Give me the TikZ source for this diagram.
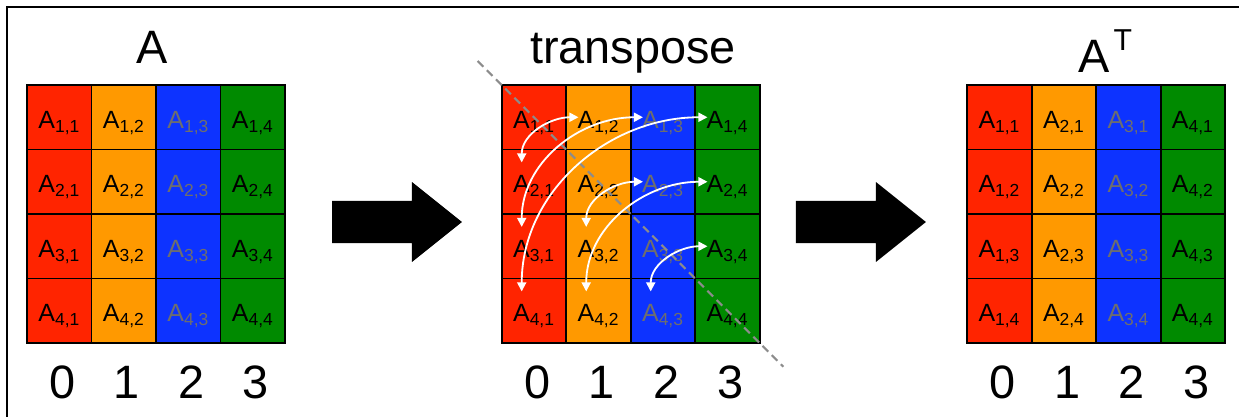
\documentclass[tikz,border=0pt]{standalone}
\usepackage{fontspec}
\setmainfont{Liberation Sans}
\usetikzlibrary{arrows.meta}

\definecolor{cellred}{RGB}{255,36,0}
\definecolor{cellorange}{RGB}{255,153,0}
\definecolor{cellblue}{RGB}{13,51,255}
\definecolor{cellgreen}{RGB}{0,138,0}
\definecolor{labelgray}{RGB}{110,110,110}
\definecolor{diaggray}{RGB}{140,140,140}

\newcommand{\ent}[2]{A\textsubscript{#1,#2}}

\tikzset{
    cell/.style={draw=black, line width=1.3pt, minimum size=1.5cm, inner sep=0pt, outer sep=0pt,
        text height=14.4pt, text depth=0pt, font=\fontsize{16.5}{18}\selectfont},
    title/.style={anchor=base, font=\fontsize{31}{34}\selectfont},
    index/.style={anchor=base, font=\fontsize{31}{34}\selectfont},
    swaparrow/.style={white, line width=1.2pt, {Triangle[length=6pt,width=6pt]}-{Triangle[length=6pt,width=6pt]}},
    diag/.style={diaggray, line width=1.4pt, dash pattern=on 5.3pt off 3.3pt},
    bigarrow/.style={fill=black}
}

\begin{document}
\begin{tikzpicture}[x=1.5cm, y=1.5cm]
        \useasboundingbox (-0.4186,-1.147) rectangle (18.791,5.318);

        % rámeček
        \draw[line width=1.3pt] (-0.31,-1.2) |- (18.85,5.209);

        % matice A a transpozice
        \foreach \m/\ox in {A/0, T/7.36}
            \foreach \c/\col/\tc in {1/cellred/black, 2/cellorange/black, 3/cellblue/labelgray, 4/cellgreen/black}
                \foreach \r in {1,...,4}
                    \node[cell, fill=\col, text=\tc] (\m-\r-\c) at ({\ox+\c-0.5}, 4.5-\r) {\ent{\r}{\c}};

        % matice A^T
        \foreach \c/\col/\tc in {1/cellred/black, 2/cellorange/black, 3/cellblue/labelgray, 4/cellgreen/black}
            \foreach \r in {1,...,4}
                \node[cell, fill=\col, text=\tc] (R-\r-\c) at ({14.575+\c-0.5}, 4.5-\r) {\ent{\c}{\r}};

        % nadpisy
        \node[title] (titleA) at (1.94,4.341) {A};
        \node[title] (titleT) at (9.395,4.341) {transpose};
        \node[title, anchor=base west] (titleR) at (16.22,4.20)
            {A\kern2.5pt\raisebox{14.6pt}{\fontsize{20}{20}\selectfont T}};

        % indexy sloupců
        \foreach \m/\ox in {A/0, T/7.36, R/14.575}
            \foreach \c in {0,...,3}
                \node[index] (\m-idx-\c) at ({\ox+\c+0.55}, -0.853) {\c};

        % velké šipky
        \foreach \ax in {4.729, 11.922}
            \fill[bigarrow] (\ax,1.876) ++(0,0.326) -- ++(1.24,0) -- ++(0,0.294) -- ++(0.775,-0.62)
                -- ++(-0.775,-0.62) -- ++(0,0.294) -- ++(-1.24,0) -- cycle;

        % diagonála
        \draw[diag, shorten <=-0.79cm, shorten >=-0.78cm] (T-1-1.north west) -- (T-4-4.south east);

        % výměny prvků
        \foreach \i/\j in {1/2, 1/3, 1/4, 2/3, 2/4, 3/4}
            \draw[swaparrow] ([shift={(-0.19,-0.2)}]T-\j-\i.north) to[out=90, in=180] ([shift={(0.19,0)}]T-\i-\j.west);
    \end{tikzpicture}
\end{document}
